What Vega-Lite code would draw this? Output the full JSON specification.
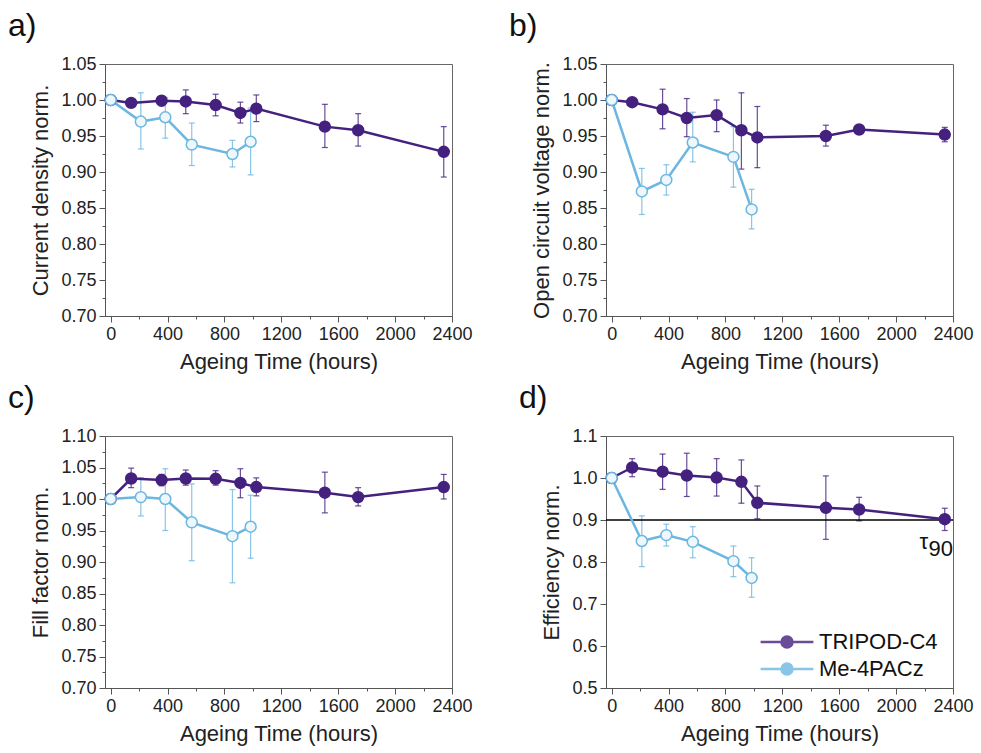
{
  "$schema": "https://vega.github.io/schema/vega-lite/v6.json",
  "background": "white",
  "padding": {"left": 7, "top": 9, "right": 5, "bottom": 2},
  "config": {
    "font": "Liberation Sans",
    "view": {"stroke": "#666", "strokeWidth": 1},
    "axis": {"labelFont": "Liberation Sans", "labelFontSize": 18, "labelColor": "#222", "titleFont": "Liberation Sans", "titleFontSize": 22, "titleFontWeight": "normal", "titleColor": "#222", "domainColor": "#555", "tickColor": "#555", "grid": false, "labelOverlap": false, "labelFlush": false},
    "axisY": {"titlePadding": 8, "labelPadding": 3},
    "axisX": {"titlePadding": 8, "labelPadding": 3},
    "title": {"font": "Liberation Sans", "fontSize": 32, "fontWeight": "normal", "anchor": "start", "frame": "bounds", "offset": 12, "dx": -22, "color": "#111"}
  },
  "datasets": {
    "pts": [
      {"panel": "a", "series": "TRIPOD-C4", "t": 0, "v": 1.0, "lo": null, "hi": null},
      {"panel": "a", "series": "TRIPOD-C4", "t": 144, "v": 0.996, "lo": 0.993, "hi": 0.999},
      {"panel": "a", "series": "TRIPOD-C4", "t": 358, "v": 0.999, "lo": 0.992, "hi": 1.005},
      {"panel": "a", "series": "TRIPOD-C4", "t": 528, "v": 0.998, "lo": 0.981, "hi": 1.014},
      {"panel": "a", "series": "TRIPOD-C4", "t": 738, "v": 0.993, "lo": 0.978, "hi": 1.008},
      {"panel": "a", "series": "TRIPOD-C4", "t": 912, "v": 0.982, "lo": 0.968, "hi": 0.997},
      {"panel": "a", "series": "TRIPOD-C4", "t": 1024, "v": 0.988, "lo": 0.970, "hi": 1.007},
      {"panel": "a", "series": "TRIPOD-C4", "t": 1506, "v": 0.963, "lo": 0.934, "hi": 0.994},
      {"panel": "a", "series": "TRIPOD-C4", "t": 1740, "v": 0.958, "lo": 0.936, "hi": 0.981},
      {"panel": "a", "series": "TRIPOD-C4", "t": 2342, "v": 0.928, "lo": 0.893, "hi": 0.963},
      {"panel": "a", "series": "Me-4PACz", "t": 0, "v": 1.0, "lo": null, "hi": null},
      {"panel": "a", "series": "Me-4PACz", "t": 212, "v": 0.970, "lo": 0.932, "hi": 1.010},
      {"panel": "a", "series": "Me-4PACz", "t": 384, "v": 0.976, "lo": 0.947, "hi": 1.003},
      {"panel": "a", "series": "Me-4PACz", "t": 570, "v": 0.938, "lo": 0.909, "hi": 0.968},
      {"panel": "a", "series": "Me-4PACz", "t": 856, "v": 0.925, "lo": 0.907, "hi": 0.944},
      {"panel": "a", "series": "Me-4PACz", "t": 984, "v": 0.942, "lo": 0.896, "hi": 0.989},

      {"panel": "b", "series": "TRIPOD-C4", "t": 0, "v": 1.0, "lo": 0.998, "hi": 1.003},
      {"panel": "b", "series": "TRIPOD-C4", "t": 144, "v": 0.997, "lo": null, "hi": null},
      {"panel": "b", "series": "TRIPOD-C4", "t": 358, "v": 0.987, "lo": 0.960, "hi": 1.015},
      {"panel": "b", "series": "TRIPOD-C4", "t": 528, "v": 0.975, "lo": 0.949, "hi": 1.002},
      {"panel": "b", "series": "TRIPOD-C4", "t": 738, "v": 0.979, "lo": 0.956, "hi": 1.000},
      {"panel": "b", "series": "TRIPOD-C4", "t": 912, "v": 0.958, "lo": 0.904, "hi": 1.010},
      {"panel": "b", "series": "TRIPOD-C4", "t": 1024, "v": 0.948, "lo": 0.906, "hi": 0.991},
      {"panel": "b", "series": "TRIPOD-C4", "t": 1506, "v": 0.950, "lo": 0.936, "hi": 0.965},
      {"panel": "b", "series": "TRIPOD-C4", "t": 1740, "v": 0.959, "lo": null, "hi": null},
      {"panel": "b", "series": "TRIPOD-C4", "t": 2342, "v": 0.952, "lo": 0.942, "hi": 0.962},
      {"panel": "b", "series": "Me-4PACz", "t": 0, "v": 1.0, "lo": null, "hi": null},
      {"panel": "b", "series": "Me-4PACz", "t": 212, "v": 0.873, "lo": 0.841, "hi": 0.905},
      {"panel": "b", "series": "Me-4PACz", "t": 384, "v": 0.889, "lo": 0.868, "hi": 0.910},
      {"panel": "b", "series": "Me-4PACz", "t": 570, "v": 0.941, "lo": 0.914, "hi": 0.983},
      {"panel": "b", "series": "Me-4PACz", "t": 856, "v": 0.921, "lo": 0.879, "hi": 0.963},
      {"panel": "b", "series": "Me-4PACz", "t": 984, "v": 0.848, "lo": 0.821, "hi": 0.876},

      {"panel": "c", "series": "TRIPOD-C4", "t": 0, "v": 1.0, "lo": null, "hi": null},
      {"panel": "c", "series": "TRIPOD-C4", "t": 144, "v": 1.0325, "lo": 1.018, "hi": 1.049},
      {"panel": "c", "series": "TRIPOD-C4", "t": 358, "v": 1.030, "lo": 1.021, "hi": 1.039},
      {"panel": "c", "series": "TRIPOD-C4", "t": 528, "v": 1.0325, "lo": 1.022, "hi": 1.046},
      {"panel": "c", "series": "TRIPOD-C4", "t": 738, "v": 1.032, "lo": 1.022, "hi": 1.045},
      {"panel": "c", "series": "TRIPOD-C4", "t": 912, "v": 1.0255, "lo": 1.002, "hi": 1.048},
      {"panel": "c", "series": "TRIPOD-C4", "t": 1024, "v": 1.019, "lo": 1.005, "hi": 1.0335},
      {"panel": "c", "series": "TRIPOD-C4", "t": 1506, "v": 1.010, "lo": 0.978, "hi": 1.0426},
      {"panel": "c", "series": "TRIPOD-C4", "t": 1740, "v": 1.003, "lo": 0.989, "hi": 1.018},
      {"panel": "c", "series": "TRIPOD-C4", "t": 2342, "v": 1.019, "lo": 1.000, "hi": 1.039},
      {"panel": "c", "series": "Me-4PACz", "t": 0, "v": 1.0, "lo": null, "hi": null},
      {"panel": "c", "series": "Me-4PACz", "t": 212, "v": 1.003, "lo": 0.973, "hi": 1.034},
      {"panel": "c", "series": "Me-4PACz", "t": 384, "v": 1.000, "lo": 0.950, "hi": 1.048},
      {"panel": "c", "series": "Me-4PACz", "t": 570, "v": 0.963, "lo": 0.902, "hi": 1.024},
      {"panel": "c", "series": "Me-4PACz", "t": 856, "v": 0.941, "lo": 0.867, "hi": 1.015},
      {"panel": "c", "series": "Me-4PACz", "t": 984, "v": 0.956, "lo": 0.906, "hi": 1.006},

      {"panel": "d", "series": "TRIPOD-C4", "t": 0, "v": 1.0, "lo": null, "hi": null},
      {"panel": "d", "series": "TRIPOD-C4", "t": 144, "v": 1.025, "lo": 1.003, "hi": 1.046},
      {"panel": "d", "series": "TRIPOD-C4", "t": 358, "v": 1.015, "lo": 0.973, "hi": 1.057},
      {"panel": "d", "series": "TRIPOD-C4", "t": 528, "v": 1.006, "lo": 0.956, "hi": 1.059},
      {"panel": "d", "series": "TRIPOD-C4", "t": 738, "v": 1.001, "lo": 0.957, "hi": 1.046},
      {"panel": "d", "series": "TRIPOD-C4", "t": 912, "v": 0.991, "lo": 0.940, "hi": 1.043},
      {"panel": "d", "series": "TRIPOD-C4", "t": 1024, "v": 0.941, "lo": 0.903, "hi": 0.981},
      {"panel": "d", "series": "TRIPOD-C4", "t": 1506, "v": 0.929, "lo": 0.854, "hi": 1.005},
      {"panel": "d", "series": "TRIPOD-C4", "t": 1740, "v": 0.925, "lo": 0.898, "hi": 0.954},
      {"panel": "d", "series": "TRIPOD-C4", "t": 2342, "v": 0.902, "lo": 0.875, "hi": 0.928},
      {"panel": "d", "series": "Me-4PACz", "t": 0, "v": 1.0, "lo": null, "hi": null},
      {"panel": "d", "series": "Me-4PACz", "t": 212, "v": 0.850, "lo": 0.789, "hi": 0.910},
      {"panel": "d", "series": "Me-4PACz", "t": 384, "v": 0.864, "lo": 0.838, "hi": 0.890},
      {"panel": "d", "series": "Me-4PACz", "t": 570, "v": 0.848, "lo": 0.810, "hi": 0.884},
      {"panel": "d", "series": "Me-4PACz", "t": 856, "v": 0.802, "lo": 0.765, "hi": 0.838},
      {"panel": "d", "series": "Me-4PACz", "t": 984, "v": 0.762, "lo": 0.716, "hi": 0.810}
    ],
    "notes": [
      {"lab": "τ", "t": 2165, "v": 0.848},
      {"lab": "90", "t": 2228, "v": 0.832}
    ],
    "ref": [
      {"level": 0.9, "t": -40, "t2": 2400}
    ]
  },
  "resolve": {"scale": {"color": "independent", "fill": "independent"}, "legend": {"color": "independent", "fill": "independent"}},
  "columns": 2,
  "spacing": {"row": 8, "column": 35},
  "concat": [
    {
      "width": 347, "height": 252,
      "title": {"text": "a)"},
      "data": {"name": "pts"},
      "transform": [{"filter": "datum.panel === 'a'"}],
      "encoding": {
        "x": {"field": "t", "type": "quantitative", "scale": {"domain": [-40, 2400], "nice": false, "zero": false},
          "axis": {"title": "Ageing Time (hours)", "values": [0,200,400,600,800,1000,1200,1400,1600,1800,2000,2200,2400], "labelOverlap": false, "labelExpr": "datum.value % 400 != 0 ? '' : format(datum.value,'d')", "tickSize": {"condition": {"test": "datum.value % 400 != 0", "value": 3}, "value": 6}}}
      },
      "layer": [
        {"mark": {"type": "errorbar", "ticks": {"size": 6}, "thickness": 1.2, "opacity": 0.8},
         "encoding": {
           "y": {"field": "lo", "type": "quantitative", "title": "Current density norm.", "scale": {"domain": [0.7, 1.05], "nice": false, "zero": false},
             "axis": {"values": [0.7,0.725,0.75,0.775,0.8,0.825,0.85,0.875,0.9,0.925,0.95,0.975,1.0,1.025,1.05], "labelOverlap": false, "labelExpr": "abs(datum.value*20-round(datum.value*20))>0.01 ? '' : format(datum.value,'.2f')", "tickSize": {"condition": {"test": "abs(datum.value*20-round(datum.value*20))>0.01", "value": 3}, "value": 6}}},
           "y2": {"field": "hi"},
           "color": {"field": "series", "type": "nominal", "scale": {"domain": ["TRIPOD-C4", "Me-4PACz"], "range": ["#45217f", "#6cb7e0"]}, "legend": null}}},
        {"mark": {"type": "line", "strokeWidth": 2.5},
         "encoding": {
           "y": {"field": "v", "type": "quantitative", "title": "Current density norm.", "scale": {"domain": [0.7, 1.05], "nice": false, "zero": false},
             "axis": {"values": [0.7,0.725,0.75,0.775,0.8,0.825,0.85,0.875,0.9,0.925,0.95,0.975,1.0,1.025,1.05], "labelOverlap": false, "labelExpr": "abs(datum.value*20-round(datum.value*20))>0.01 ? '' : format(datum.value,'.2f')", "tickSize": {"condition": {"test": "abs(datum.value*20-round(datum.value*20))>0.01", "value": 3}, "value": 6}}},
           "color": {"field": "series", "type": "nominal", "scale": {"domain": ["TRIPOD-C4", "Me-4PACz"], "range": ["#45217f", "#6cb7e0"]}, "legend": null}}},
        {"mark": {"type": "point", "filled": false, "size": 120, "strokeWidth": 1.5, "opacity": 1},
         "encoding": {
           "y": {"field": "v", "type": "quantitative", "title": "Current density norm.", "scale": {"domain": [0.7, 1.05], "nice": false, "zero": false},
             "axis": {"values": [0.7,0.725,0.75,0.775,0.8,0.825,0.85,0.875,0.9,0.925,0.95,0.975,1.0,1.025,1.05], "labelOverlap": false, "labelExpr": "abs(datum.value*20-round(datum.value*20))>0.01 ? '' : format(datum.value,'.2f')", "tickSize": {"condition": {"test": "abs(datum.value*20-round(datum.value*20))>0.01", "value": 3}, "value": 6}}},
           "color": {"field": "series", "type": "nominal", "scale": {"domain": ["TRIPOD-C4", "Me-4PACz"], "range": ["#45217f", "#6cb7e0"]}, "legend": null},
           "fill": {"field": "series", "type": "nominal", "scale": {"domain": ["TRIPOD-C4", "Me-4PACz"], "range": ["#45217f", "#eef8fc"]}, "legend": null}}}
      ]
    },
    {
      "width": 347, "height": 252,
      "title": {"text": "b)"},
      "data": {"name": "pts"},
      "transform": [{"filter": "datum.panel === 'b'"}],
      "encoding": {
        "x": {"field": "t", "type": "quantitative", "scale": {"domain": [-40, 2400], "nice": false, "zero": false},
          "axis": {"title": "Ageing Time (hours)", "values": [0,200,400,600,800,1000,1200,1400,1600,1800,2000,2200,2400], "labelOverlap": false, "labelExpr": "datum.value % 400 != 0 ? '' : format(datum.value,'d')", "tickSize": {"condition": {"test": "datum.value % 400 != 0", "value": 3}, "value": 6}}}
      },
      "layer": [
        {"mark": {"type": "errorbar", "ticks": {"size": 6}, "thickness": 1.2, "opacity": 0.8},
         "encoding": {
           "y": {"field": "lo", "type": "quantitative", "title": "Open circuit voltage norm.", "scale": {"domain": [0.7, 1.05], "nice": false, "zero": false},
             "axis": {"values": [0.7,0.725,0.75,0.775,0.8,0.825,0.85,0.875,0.9,0.925,0.95,0.975,1.0,1.025,1.05], "labelOverlap": false, "labelExpr": "abs(datum.value*20-round(datum.value*20))>0.01 ? '' : format(datum.value,'.2f')", "tickSize": {"condition": {"test": "abs(datum.value*20-round(datum.value*20))>0.01", "value": 3}, "value": 6}}},
           "y2": {"field": "hi"},
           "color": {"field": "series", "type": "nominal", "scale": {"domain": ["TRIPOD-C4", "Me-4PACz"], "range": ["#45217f", "#6cb7e0"]}, "legend": null}}},
        {"mark": {"type": "line", "strokeWidth": 2.5},
         "encoding": {
           "y": {"field": "v", "type": "quantitative", "title": "Open circuit voltage norm.", "scale": {"domain": [0.7, 1.05], "nice": false, "zero": false},
             "axis": {"values": [0.7,0.725,0.75,0.775,0.8,0.825,0.85,0.875,0.9,0.925,0.95,0.975,1.0,1.025,1.05], "labelOverlap": false, "labelExpr": "abs(datum.value*20-round(datum.value*20))>0.01 ? '' : format(datum.value,'.2f')", "tickSize": {"condition": {"test": "abs(datum.value*20-round(datum.value*20))>0.01", "value": 3}, "value": 6}}},
           "color": {"field": "series", "type": "nominal", "scale": {"domain": ["TRIPOD-C4", "Me-4PACz"], "range": ["#45217f", "#6cb7e0"]}, "legend": null}}},
        {"mark": {"type": "point", "filled": false, "size": 120, "strokeWidth": 1.5, "opacity": 1},
         "encoding": {
           "y": {"field": "v", "type": "quantitative", "title": "Open circuit voltage norm.", "scale": {"domain": [0.7, 1.05], "nice": false, "zero": false},
             "axis": {"values": [0.7,0.725,0.75,0.775,0.8,0.825,0.85,0.875,0.9,0.925,0.95,0.975,1.0,1.025,1.05], "labelOverlap": false, "labelExpr": "abs(datum.value*20-round(datum.value*20))>0.01 ? '' : format(datum.value,'.2f')", "tickSize": {"condition": {"test": "abs(datum.value*20-round(datum.value*20))>0.01", "value": 3}, "value": 6}}},
           "color": {"field": "series", "type": "nominal", "scale": {"domain": ["TRIPOD-C4", "Me-4PACz"], "range": ["#45217f", "#6cb7e0"]}, "legend": null},
           "fill": {"field": "series", "type": "nominal", "scale": {"domain": ["TRIPOD-C4", "Me-4PACz"], "range": ["#45217f", "#eef8fc"]}, "legend": null}}}
      ]
    },
    {
      "width": 347, "height": 252,
      "title": {"text": "c)"},
      "data": {"name": "pts"},
      "transform": [{"filter": "datum.panel === 'c'"}],
      "encoding": {
        "x": {"field": "t", "type": "quantitative", "scale": {"domain": [-40, 2400], "nice": false, "zero": false},
          "axis": {"title": "Ageing Time (hours)", "values": [0,200,400,600,800,1000,1200,1400,1600,1800,2000,2200,2400], "labelOverlap": false, "labelExpr": "datum.value % 400 != 0 ? '' : format(datum.value,'d')", "tickSize": {"condition": {"test": "datum.value % 400 != 0", "value": 3}, "value": 6}}}
      },
      "layer": [
        {"mark": {"type": "errorbar", "ticks": {"size": 6}, "thickness": 1.2, "opacity": 0.8},
         "encoding": {
           "y": {"field": "lo", "type": "quantitative", "title": "Fill factor norm.", "scale": {"domain": [0.7, 1.1], "nice": false, "zero": false},
             "axis": {"values": [0.7,0.725,0.75,0.775,0.8,0.825,0.85,0.875,0.9,0.925,0.95,0.975,1.0,1.025,1.05,1.075,1.1], "labelOverlap": false, "labelExpr": "abs(datum.value*20-round(datum.value*20))>0.01 ? '' : format(datum.value,'.2f')", "tickSize": {"condition": {"test": "abs(datum.value*20-round(datum.value*20))>0.01", "value": 3}, "value": 6}}},
           "y2": {"field": "hi"},
           "color": {"field": "series", "type": "nominal", "scale": {"domain": ["TRIPOD-C4", "Me-4PACz"], "range": ["#45217f", "#6cb7e0"]}, "legend": null}}},
        {"mark": {"type": "line", "strokeWidth": 2.5},
         "encoding": {
           "y": {"field": "v", "type": "quantitative", "title": "Fill factor norm.", "scale": {"domain": [0.7, 1.1], "nice": false, "zero": false},
             "axis": {"values": [0.7,0.725,0.75,0.775,0.8,0.825,0.85,0.875,0.9,0.925,0.95,0.975,1.0,1.025,1.05,1.075,1.1], "labelOverlap": false, "labelExpr": "abs(datum.value*20-round(datum.value*20))>0.01 ? '' : format(datum.value,'.2f')", "tickSize": {"condition": {"test": "abs(datum.value*20-round(datum.value*20))>0.01", "value": 3}, "value": 6}}},
           "color": {"field": "series", "type": "nominal", "scale": {"domain": ["TRIPOD-C4", "Me-4PACz"], "range": ["#45217f", "#6cb7e0"]}, "legend": null}}},
        {"mark": {"type": "point", "filled": false, "size": 120, "strokeWidth": 1.5, "opacity": 1},
         "encoding": {
           "y": {"field": "v", "type": "quantitative", "title": "Fill factor norm.", "scale": {"domain": [0.7, 1.1], "nice": false, "zero": false},
             "axis": {"values": [0.7,0.725,0.75,0.775,0.8,0.825,0.85,0.875,0.9,0.925,0.95,0.975,1.0,1.025,1.05,1.075,1.1], "labelOverlap": false, "labelExpr": "abs(datum.value*20-round(datum.value*20))>0.01 ? '' : format(datum.value,'.2f')", "tickSize": {"condition": {"test": "abs(datum.value*20-round(datum.value*20))>0.01", "value": 3}, "value": 6}}},
           "color": {"field": "series", "type": "nominal", "scale": {"domain": ["TRIPOD-C4", "Me-4PACz"], "range": ["#45217f", "#6cb7e0"]}, "legend": null},
           "fill": {"field": "series", "type": "nominal", "scale": {"domain": ["TRIPOD-C4", "Me-4PACz"], "range": ["#45217f", "#eef8fc"]}, "legend": null}}}
      ]
    },
    {
      "width": 347, "height": 252,
      "title": {"text": "d)"},
      "encoding": {
        "x": {"field": "t", "type": "quantitative", "scale": {"domain": [-40, 2400], "nice": false, "zero": false},
          "axis": {"title": "Ageing Time (hours)", "values": [0,200,400,600,800,1000,1200,1400,1600,1800,2000,2200,2400], "labelOverlap": false, "labelExpr": "datum.value % 400 != 0 ? '' : format(datum.value,'d')", "tickSize": {"condition": {"test": "datum.value % 400 != 0", "value": 3}, "value": 6}}}
      },
      "layer": [
        {"data": {"name": "pts"},
         "transform": [{"filter": "datum.panel === 'd'"}],
         "mark": {"type": "errorbar", "ticks": {"size": 6}, "thickness": 1.2, "opacity": 0.8},
         "encoding": {
           "y": {"field": "lo", "type": "quantitative", "title": "Efficiency norm.", "scale": {"domain": [0.5, 1.1], "nice": false, "zero": false},
             "axis": {"values": [0.5,0.55,0.6,0.65,0.7,0.75,0.8,0.85,0.9,0.95,1.0,1.05,1.1], "labelOverlap": false, "labelExpr": "abs(datum.value*10-round(datum.value*10))>0.01 ? '' : format(datum.value,'.1f')", "tickSize": {"condition": {"test": "abs(datum.value*10-round(datum.value*10))>0.01", "value": 3}, "value": 6}}},
           "y2": {"field": "hi"},
           "color": {"field": "series", "type": "nominal", "scale": {"domain": ["TRIPOD-C4", "Me-4PACz"], "range": ["#45217f", "#6cb7e0"]},
             "legend": {"title": null, "orient": "none", "legendX": 170, "legendY": 195, "symbolType": "M-4.8,0H-1M1,0H4.8M1,0A1,1,0,1,1,-1,0A1,1,0,1,1,1,0Z", "symbolSize": 121, "symbolStrokeWidth": 2.5, "labelFontSize": 22, "labelFont": "Liberation Sans", "labelColor": "#111", "labelOffset": 21, "rowPadding": 5}}}},
        {"data": {"name": "ref"},
         "mark": {"type": "rule", "color": "#000", "strokeWidth": 1.5},
         "encoding": {
           "x": {"field": "t", "type": "quantitative"},
           "x2": {"field": "t2"},
           "y": {"field": "level", "type": "quantitative"}}},
        {"data": {"name": "pts"},
         "transform": [{"filter": "datum.panel === 'd'"}],
         "mark": {"type": "line", "strokeWidth": 2.5},
         "encoding": {
           "y": {"field": "v", "type": "quantitative", "title": "Efficiency norm.", "scale": {"domain": [0.5, 1.1], "nice": false, "zero": false},
             "axis": {"values": [0.5,0.55,0.6,0.65,0.7,0.75,0.8,0.85,0.9,0.95,1.0,1.05,1.1], "labelOverlap": false, "labelExpr": "abs(datum.value*10-round(datum.value*10))>0.01 ? '' : format(datum.value,'.1f')", "tickSize": {"condition": {"test": "abs(datum.value*10-round(datum.value*10))>0.01", "value": 3}, "value": 6}}},
           "color": {"field": "series", "type": "nominal", "scale": {"domain": ["TRIPOD-C4", "Me-4PACz"], "range": ["#45217f", "#6cb7e0"]},
             "legend": {"title": null, "orient": "none", "legendX": 170, "legendY": 195, "symbolType": "M-4.8,0H-1M1,0H4.8M1,0A1,1,0,1,1,-1,0A1,1,0,1,1,1,0Z", "symbolSize": 121, "symbolStrokeWidth": 2.5, "labelFontSize": 22, "labelFont": "Liberation Sans", "labelColor": "#111", "labelOffset": 21, "rowPadding": 5}}}},
        {"data": {"name": "pts"},
         "transform": [{"filter": "datum.panel === 'd'"}],
         "mark": {"type": "point", "filled": false, "size": 120, "strokeWidth": 1.5, "opacity": 1},
         "encoding": {
           "y": {"field": "v", "type": "quantitative", "title": "Efficiency norm.", "scale": {"domain": [0.5, 1.1], "nice": false, "zero": false},
             "axis": {"values": [0.5,0.55,0.6,0.65,0.7,0.75,0.8,0.85,0.9,0.95,1.0,1.05,1.1], "labelOverlap": false, "labelExpr": "abs(datum.value*10-round(datum.value*10))>0.01 ? '' : format(datum.value,'.1f')", "tickSize": {"condition": {"test": "abs(datum.value*10-round(datum.value*10))>0.01", "value": 3}, "value": 6}}},
           "color": {"field": "series", "type": "nominal", "scale": {"domain": ["TRIPOD-C4", "Me-4PACz"], "range": ["#45217f", "#6cb7e0"]},
             "legend": {"title": null, "orient": "none", "legendX": 170, "legendY": 195, "symbolType": "M-4.8,0H-1M1,0H4.8M1,0A1,1,0,1,1,-1,0A1,1,0,1,1,1,0Z", "symbolSize": 121, "symbolStrokeWidth": 2.5, "labelFontSize": 22, "labelFont": "Liberation Sans", "labelColor": "#111", "labelOffset": 21, "rowPadding": 5,
               "encode": {"symbols": {"fill": {"value": {"expr": "datum.value === 'TRIPOD-C4' ? '#45217f' : '#eef8fc'"}}}}}},
           "fill": {"field": "series", "type": "nominal", "scale": {"domain": ["TRIPOD-C4", "Me-4PACz"], "range": ["#45217f", "#eef8fc"]},
             "legend": {"title": null, "orient": "none", "legendX": 170, "legendY": 195, "symbolType": "M-4.8,0H-1M1,0H4.8M1,0A1,1,0,1,1,-1,0A1,1,0,1,1,1,0Z", "symbolSize": 121, "symbolStrokeWidth": 2.5, "labelFontSize": 22, "labelFont": "Liberation Sans", "labelColor": "#111", "labelOffset": 21, "rowPadding": 5,
               "encode": {"symbols": {"fill": {"value": {"expr": "datum.value === 'TRIPOD-C4' ? '#45217f' : '#eef8fc'"}}}}}}}},
        {"data": {"name": "notes"},
         "mark": {"type": "text", "fontSize": 22, "font": "Liberation Sans", "align": "left", "baseline": "middle", "color": "#111"},
         "encoding": {
           "y": {"field": "v", "type": "quantitative"},
           "text": {"field": "lab"}}}
      ]
    }
  ]
}
